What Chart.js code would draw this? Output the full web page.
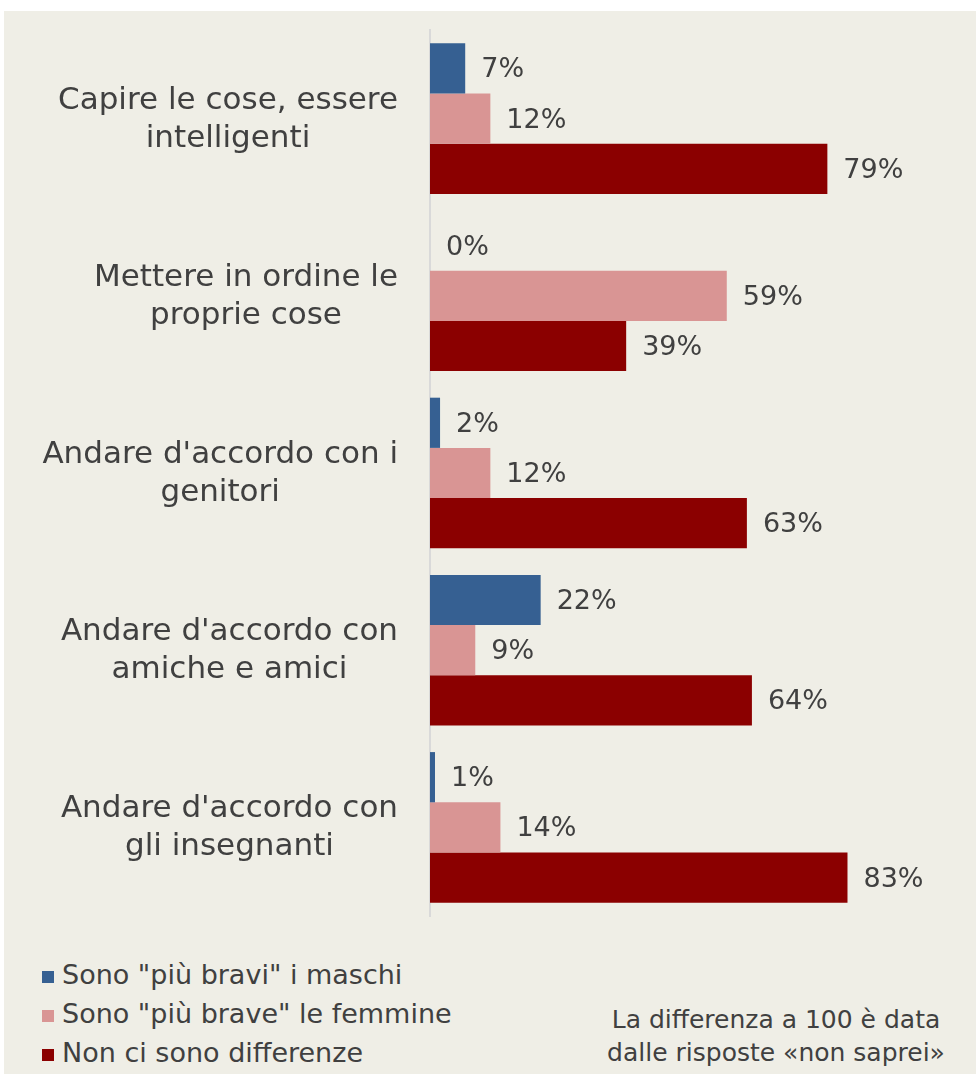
<!DOCTYPE html>
<html>
<head>
<meta charset="utf-8">
<script src="https://cdn.jsdelivr.net/npm/chart.js@4"></script>
<style>
  html, body { margin: 0; padding: 0; background: #ffffff; }
  body { width: 976px; height: 1074px; position: relative; overflow: hidden; font-family: 'DejaVu Sans', sans-serif; color: #404040; }
  #panel { position: absolute; left: 4px; top: 11px; width: 972px; height: 1063px; background: #efeee6; }
  #wrap { position: absolute; left: 0; top: 0; width: 972px; height: 940px; }
  #legend { position: absolute; left: 38px; top: 944px; font-size: 27px; }
  #legend div { height: 39px; line-height: 39px; white-space: nowrap; }
  #legend span.box { display: inline-block; width: 12px; height: 12px; margin-right: 8px; vertical-align: 1px; }
  #note { position: absolute; left: 560px; top: 992px; width: 424px; text-align: center; font-size: 25px; line-height: 33px; }
</style>
</head>
<body>
<div id="panel">
  <div id="wrap"><canvas id="c"></canvas></div>
  <div id="legend"></div>
  <div id="note">La differenza a 100 è data<br>dalle risposte «non saprei»</div>
</div>
<script>
const categories = [
  ['Capire le cose, essere', 'intelligenti'],
  ['Mettere in ordine le', 'proprie cose'],
  ["Andare d'accordo con i", 'genitori'],
  ["Andare d'accordo con", 'amiche e amici'],
  ["Andare d'accordo con", 'gli insegnanti']
];
const seriesNames = ['Sono "più bravi" i maschi', 'Sono "più brave" le femmine', 'Non ci sono differenze'];
const maschi = [7, 0, 2, 22, 1];
const femmine = [12, 59, 12, 9, 14];
const nessuna = [79, 39, 63, 64, 83];
const colors = ['#366092', '#d99594', '#8b0000'];

// value labels at the end of each bar
const valueLabels = {
  id: 'valueLabels',
  afterDatasetsDraw(chart) {
    const ctx = chart.ctx;
    ctx.save();
    ctx.font = '27px "DejaVu Sans"';
    ctx.fillStyle = '#404040';
    ctx.textBaseline = 'middle';
    ctx.textAlign = 'left';
    chart.data.datasets.forEach((ds, i) => {
      chart.getDatasetMeta(i).data.forEach((bar, j) => {
        ctx.fillText(ds.data[j] + '%', bar.x + 16, bar.y + 2);
      });
    });
    ctx.restore();
  }
};

// category labels: block right aligned to the axis, lines centred in the block
const catLabels = {
  id: 'catLabels',
  afterDraw(chart) {
    const ctx = chart.ctx;
    const y = chart.scales.y;
    const lh = 38;
    ctx.save();
    ctx.font = '31px "DejaVu Sans"';
    ctx.fillStyle = '#404040';
    ctx.textBaseline = 'middle';
    ctx.textAlign = 'center';
    categories.forEach((lines, i) => {
      const w = Math.max(...lines.map(l => ctx.measureText(l).width));
      const cx = y.right - 32 - w / 2;
      const cy = y.getPixelForTick(i) + 1;
      lines.forEach((l, k) => {
        ctx.fillText(l, cx, cy + (k - (lines.length - 1) / 2) * lh);
      });
    });
    ctx.restore();
  }
};

new Chart(document.getElementById('c'), {
  type: 'bar',
  data: {
    labels: categories,
    datasets: [maschi, femmine, nessuna].map((d, i) => ({
      label: seriesNames[i],
      data: d,
      backgroundColor: colors[i],
      borderWidth: 0,
      categoryPercentage: 0.85,
      barPercentage: 1.0
    }))
  },
  options: {
    indexAxis: 'y',
    responsive: true,
    maintainAspectRatio: false,
    animation: false,
    layout: { padding: { top: 19, bottom: 35, left: 0, right: 43 } },
    plugins: { legend: { display: false }, tooltip: { enabled: false } },
    scales: {
      x: { min: 0, max: 100, display: false },
      y: {
        afterFit(s) { s.width = 426; s.paddingTop = 0; s.paddingBottom = 0; },
        grid: { display: false },
        border: { display: true, color: '#d9d9d9', width: 2 },
        ticks: { display: false }
      }
    }
  },
  plugins: [valueLabels, catLabels]
});

const leg = document.getElementById('legend');
seriesNames.forEach((n, i) => {
  const row = document.createElement('div');
  row.innerHTML = '<span class="box" style="background:' + colors[i] + '"></span>' + n;
  leg.appendChild(row);
});
</script>
</body>
</html>
